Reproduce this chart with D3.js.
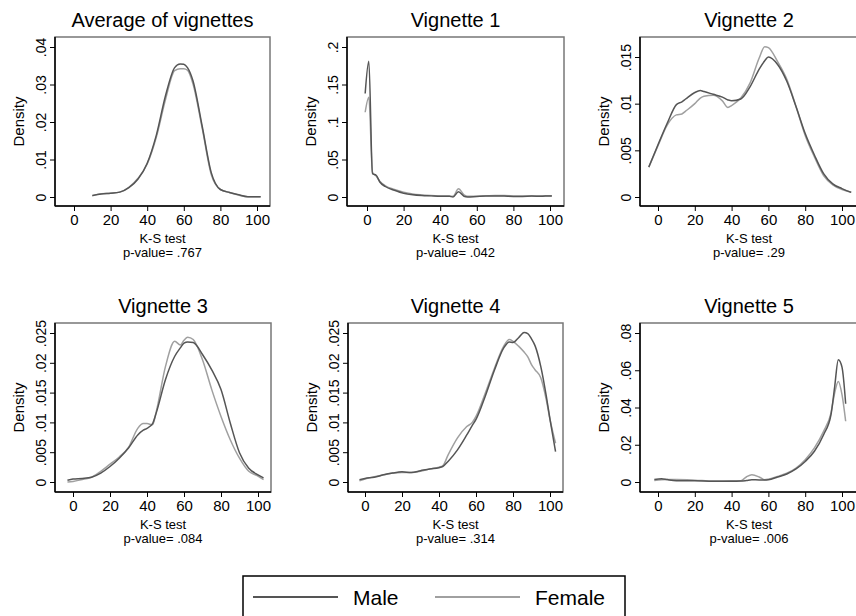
<!DOCTYPE html>
<html>
<head>
<meta charset="utf-8">
<style>
    body { margin: 0; background: #fff; }
    text { font-family: "Liberation Sans", Arial, sans-serif; fill: #000; }
    .frame { fill: none; stroke: #777; stroke-width: 1.5px; }
    .axis-line { stroke: #000; stroke-width: 1.5px; }
    .tick line { stroke: #000; stroke-width: 1px; }
    .male { fill: none; stroke: #555; stroke-width: 1.5px; }
    .female { fill: none; stroke: #a0a0a0; stroke-width: 1.5px; }
</style>
<script src="https://d3js.org/d3.v7.min.js"></script>
<title>K-S test densities</title>
</head>
<body>
<svg id="chart" width="856" height="616"></svg>
<script>
// ---- data ----
var titles = ["Average of vignettes", "Vignette 1", "Vignette 2", "Vignette 3", "Vignette 4", "Vignette 5"];
var pValues = [".767", ".042", ".29", ".084", ".314", ".006"];
var xTicks = [0, 20, 40, 60, 80, 100];

var yTicks0 = [0, .01, .02, .03, .04];
var yTicks1 = [0, .05, .1, .15, .2];
var yTicks2 = [0, .005, .01, .015];
var yTicks3 = [0, .005, .01, .015, .02, .025];
var yTicks4 = [0, .005, .01, .015, .02, .025];
var yTicks5 = [0, .02, .04, .06, .08];

var avgX = [10, 15, 20, 25, 30, 35, 40, 45, 50, 55, 58, 60, 62, 65, 70, 75, 80, 85, 90, 95, 100, 102];
var avgMale = [.0004, .0008, .001, .0013, .0025, .0048, .009, .0165, .027, .0345, .0355, .0354, .0345, .031, .019, .0065, .002, .0012, .0006, .0001, .0001, .0001];
var avgFemale = [.0003, .0009, .001, .0013, .0026, .005, .0088, .016, .026, .0337, .0342, .0342, .0338, .0302, .0185, .006, .002, .0012, .0005, .0001, .0001, .0001];

var v1X = [-1, 1, 3, 5, 7, 10, 15, 20, 25, 30, 35, 40, 45, 47, 50, 53, 55, 60, 65, 70, 75, 80, 85, 90, 95, 100, 101];
var v1Male = [.138, .181, .031, .029, .02, .014, .009, .005, .003, .002, .0015, .001, .001, .0, .007, .001, .0, .0008, .0015, .0015, .0012, .0008, .0008, .0012, .001, .0015, .0015];
var v1Female = [.113, .133, .033, .028, .021, .015, .01, .0065, .004, .0028, .002, .0015, .0012, .001, .011, .003, .001, .001, .0015, .002, .002, .0015, .0012, .0015, .0015, .0018, .0018];

var v2X = [-5, 0, 5, 10, 13, 15, 20, 23, 25, 30, 35, 38, 40, 45, 50, 55, 58, 60, 65, 70, 75, 80, 85, 90, 95, 100, 105];
var v2Male = [.0032, .0056, .0079, .0099, .0102, .0105, .0112, .0114, .0113, .011, .0107, .0104, .0103, .0105, .0118, .0137, .0146, .015, .0142, .0124, .0097, .0068, .0045, .0025, .0014, .0009, .0005];
var v2Female = [.0032, .0055, .0077, .0088, .0089, .0092, .01, .0106, .0108, .0109, .0103, .0096, .0098, .0106, .0122, .0149, .0161, .016, .0145, .0126, .0097, .0066, .0043, .0023, .0013, .0008, .0005];

var v3X = [-3, 0, 5, 10, 15, 20, 25, 30, 35, 38, 40, 43, 45, 50, 55, 58, 60, 62, 65, 70, 75, 80, 85, 90, 95, 100, 103];
var v3Male = [.0003, .0005, .0006, .0008, .0015, .0026, .004, .0057, .0079, .0087, .009, .0098, .0116, .0172, .0211, .0225, .0233, .0235, .0234, .0214, .0188, .0155, .0099, .0049, .0023, .0012, .0007];
var v3Female = [.0, .0001, .0004, .0008, .0018, .003, .0042, .0058, .009, .0098, .0098, .0096, .0118, .0194, .0236, .023, .0238, .0243, .0239, .0205, .0155, .011, .0071, .004, .0018, .001, .0004];

var v4X = [-3, 0, 5, 10, 15, 20, 25, 30, 35, 40, 42, 45, 50, 55, 58, 60, 65, 70, 75, 78, 80, 83, 86, 88, 90, 92, 95, 98, 100, 103];
var v4Male = [.0004, .0006, .0008, .0012, .0015, .0017, .0016, .0019, .0022, .0024, .0026, .0035, .0054, .0079, .0095, .0105, .0144, .0188, .0225, .0235, .0234, .0242, .0251, .0249, .024, .0228, .0194, .0144, .0105, .0051];
var v4Female = [.0002, .0005, .0009, .0012, .0015, .0016, .0016, .0018, .0022, .0025, .0027, .0046, .0074, .0093, .01, .011, .0149, .0191, .0228, .0239, .0236, .0228, .0218, .021, .0197, .0188, .0175, .0138, .0105, .0065];

var v5X = [-2, 2, 5, 10, 20, 30, 40, 45, 48, 51, 55, 58, 60, 65, 70, 75, 80, 85, 90, 94, 96, 98, 100, 102];
var v5Male = [.0013, .0018, .0013, .0007, .0007, .0004, .0004, .0005, .0008, .0012, .0011, .0011, .0012, .0027, .0043, .007, .011, .0165, .0254, .036, .051, .0657, .0617, .042];
var v5Female = [.0008, .0012, .0013, .0013, .001, .0005, .0007, .0007, .0027, .0039, .0027, .0012, .0015, .003, .0047, .0075, .012, .0183, .0272, .037, .0478, .054, .0469, .0326];

var seriesNames = ["Male", "Female"];

// ---- layout of the six panels (pixel boxes, tick anchors) ----
var panels = [
    { x: avgX, m: avgMale, f: avgFemale, yt: yTicks0, box: [55, 37, 270, 206], xr: [74, 257], yr: [197, 47] },
    { x: v1X, m: v1Male, f: v1Female, yt: yTicks1, box: [347, 37, 564, 206], xr: [367, 550], yr: [197, 47] },
    { x: v2X, m: v2Male, f: v2Female, yt: yTicks2, box: [640, 37, 858, 206], xr: [658, 842], yr: [197, 57] },
    { x: v3X, m: v3Male, f: v3Female, yt: yTicks3, box: [55, 323, 271, 492], xr: [73, 258], yr: [482, 333] },
    { x: v4X, m: v4Male, f: v4Female, yt: yTicks4, box: [348, 323, 563, 492], xr: [365, 550], yr: [482, 333] },
    { x: v5X, m: v5Male, f: v5Female, yt: yTicks5, box: [640, 323, 858, 492], xr: [658, 842], yr: [482, 333] }
];

var svg = d3.select("#chart");

function fmt(v) {
    if (v === 0) return "0";
    return String(v).replace(/^0/, "");
}

panels.forEach(function (p, i) {
    var b = p.box;
    var x = d3.scaleLinear().domain([0, 100]).range(p.xr);
    var y = d3.scaleLinear().domain([0, d3.max(p.yt)]).range(p.yr);
    var g = svg.append("g");
    var cx = (b[0] + b[2]) / 2, cy = (b[1] + b[3]) / 2;

    // title
    g.append("text")
        .attr("x", cx).attr("y", b[1] - 10)
        .attr("text-anchor", "middle")
        .attr("font-size", "20px")
        .text(titles[i]);

    // plot region outline
    g.append("rect").attr("class", "frame")
        .attr("x", b[0]).attr("y", b[1])
        .attr("width", b[2] - b[0]).attr("height", b[3] - b[1]);

    // curves
    var line = d3.line()
        .x(function (d) { return x(d[0]); })
        .y(function (d) { return y(d[1]); })
        .curve(d3.curveMonotoneX);
    g.append("path").attr("class", "female")
        .attr("d", line(p.x.map(function (v, k) { return [v, p.f[k]]; })));
    g.append("path").attr("class", "male")
        .attr("d", line(p.x.map(function (v, k) { return [v, p.m[k]]; })));

    // x axis
    var xa = g.append("g")
        .attr("transform", "translate(0," + b[3] + ")")
        .call(d3.axisBottom(x).tickValues(xTicks).tickSize(5).tickPadding(3));
    xa.select(".domain").remove();
    xa.selectAll("text").attr("font-size", "15px").attr("font-family", null);
    g.append("line").attr("class", "axis-line")
        .attr("x1", b[0]).attr("x2", b[2]).attr("y1", b[3]).attr("y2", b[3]);

    // y axis
    var ya = g.append("g")
        .attr("transform", "translate(" + b[0] + ",0)")
        .call(d3.axisLeft(y).tickValues(p.yt).tickSize(5).tickFormat(fmt));
    ya.select(".domain").remove();
    ya.selectAll("text")
        .attr("font-size", "14px").attr("font-family", null)
        .attr("x", null).attr("dy", null)
        .attr("transform", "translate(-9,0) rotate(-90)")
        .attr("text-anchor", "middle");
    g.append("line").attr("class", "axis-line")
        .attr("x1", b[0]).attr("x2", b[0]).attr("y1", b[1]).attr("y2", b[3]);

    // axis titles
    g.append("text")
        .attr("transform", "translate(" + (b[0] - 31) + "," + cy + ") rotate(-90)")
        .attr("text-anchor", "middle")
        .attr("font-size", "15px")
        .text("Density");
    g.append("text")
        .attr("x", cx).attr("y", b[3] + 37)
        .attr("text-anchor", "middle")
        .attr("font-size", "13px")
        .text("K-S test");
    g.append("text")
        .attr("x", cx).attr("y", b[3] + 51)
        .attr("text-anchor", "middle")
        .attr("font-size", "13px")
        .text("p-value= " + pValues[i]);
});

// legend
var lg = svg.append("g");
lg.append("rect")
    .attr("x", 243).attr("y", 576).attr("width", 382).attr("height", 60)
    .attr("fill", "#fff").attr("stroke", "#000").attr("stroke-width", 1.5);
var legendX = [253, 435];
seriesNames.forEach(function (name, k) {
    lg.append("line")
        .attr("class", k === 0 ? "male" : "female")
        .attr("x1", legendX[k]).attr("x2", legendX[k] + 85)
        .attr("y1", 597).attr("y2", 597)
        .style("stroke-width", "2px");
    lg.append("text")
        .attr("x", legendX[k] + 100).attr("y", 605)
        .attr("font-size", "21px")
        .text(name);
});
</script>
</body>
</html>
